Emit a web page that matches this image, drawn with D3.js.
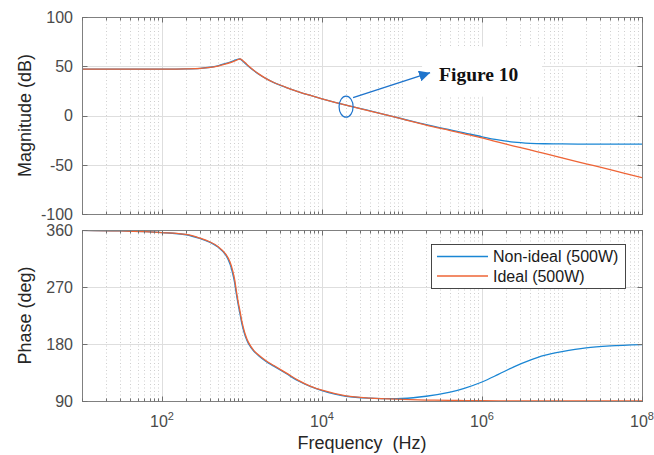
<!DOCTYPE html>
<html>
<head>
<meta charset="utf-8">
<title>bode plot</title>
<script src="https://cdn.jsdelivr.net/npm/d3@7"></script>
<style>
    body { margin: 0; background: #fff; }
    text { font-family: "Liberation Sans", Arial, sans-serif; }
</style>
</head>
<body>
<div id="graphDiv"></div>
<script>

var width = 654,
    height = 455;

var freqs = [10, 30, 100, 200, 300, 400, 500, 630, 710, 800, 850, 900, 950, 1000,
    1100, 1200, 1400, 1600, 2000, 2500, 3600, 5000, 7000, 1e4, 2e4, 4e4, 1e5, 2e5,
    4e5, 6e5, 1e6, 1.6e6, 2.5e6, 4e6, 6e6, 1e7, 2e7, 4e7, 1e8];

// magnitude (dB)
var magNonIdeal = [47, 47, 47, 47.3, 47.9, 49, 50.5, 52.8, 54.2, 55.8, 56.7, 57.3, 57.2, 55.8,
    52.8, 50, 45.6, 42.2, 37.4, 33.4, 28.4, 24.3, 20.6, 17, 10.5, 4.6, -3.3, -9.3,
    -14.6, -17.6, -21.6, -24.8, -27, -28.2, -28.7, -28.9, -29, -29, -29];
var magIdeal = [47, 47, 47, 47.3, 47.8, 48.8, 50.2, 52.3, 53.6, 55.2, 56.1, 56.9, 57.4, 56.4,
    53.5, 50.5, 46, 42.5, 37.5, 33.5, 28.4, 24.3, 20.6, 17, 10.5, 4.5, -3.5, -9.8,
    -15.3, -18.6, -22.8, -27, -31, -35, -38.5, -43, -49, -55, -63];

// phase (deg)
var phaseNonIdeal = [359.5, 358.5, 356, 352.5, 346.5, 340.5, 333, 320, 306, 280, 259, 241, 226, 211,
    192, 181, 169, 162, 152.5, 145, 133, 122, 113.5, 106.5, 97.5, 94.5, 94, 97.5,
    104, 110, 120, 132, 144, 154.6, 162, 168, 174, 177, 179];
var phaseIdeal = [359.5, 358.5, 356, 353, 347, 341, 334, 321.5, 309, 285, 264, 245, 230, 215,
    195, 183, 170, 163, 153.5, 146, 134, 123, 114, 107, 98, 94.5, 92.5, 91.5,
    91, 90.7, 90.5, 90.3, 90.2, 90.1, 90.1, 90, 90, 90, 90];

var seriesNames = ["Non-ideal (500W)", "Ideal (500W)"],
    seriesColors = ["#1a86d4", "#ee6436"];

var xTickVals = [1e2, 1e4, 1e6, 1e8],
    xTickExps = ["2", "4", "6", "8"],
    magTicks = [100, 50, 0, -50, -100],
    phaseTicks = [360, 270, 180, 90];

// annotation anchor on the magnitude curve
var annoFreq = 2e4,
    annoMag = 9,
    annoText = "Figure 10";

var left = 82, right = 642,
    magTop = 17, magBottom = 214,
    phTop = 230, phBottom = 401;

var x = d3.scaleLog().domain([10, 1e8]).range([left, right]),
    yMag = d3.scaleLinear().domain([-100, 100]).range([magBottom, magTop]),
    yPh = d3.scaleLinear().domain([90, 360]).range([phBottom, phTop]);

// every k*10^n position for minor ticks / dotted grid
var minorVals = [];
for (var n = 1; n < 8; n += 1) {
    for (var k = 1; k < 10; k += 1) {
        minorVals.push(k * Math.pow(10, n));
    }
}
minorVals.push(1e8);

var svg = d3.select('#graphDiv').append('svg')
    .attr('width', width)
    .attr('height', height);

function px(v) { return Math.round(v) + 0.5; }

function drawPanel(yScale, yTicks, top, bottom, seriesData, clipId) {
    var g = svg.append("g");

    // dotted minor grid
    g.selectAll(".minor").data(minorVals.filter(function(d) { return xTickVals.indexOf(d) < 0; }))
        .enter().append("line")
        .attr("x1", function(d) { return px(x(d)); })
        .attr("x2", function(d) { return px(x(d)); })
        .attr("y1", top).attr("y2", bottom)
        .style("stroke", "#cfcfcf")
        .style("stroke-width", 1)
        .style("stroke-dasharray", "1,2.5");

    // solid major grid
    g.selectAll(".majorx").data(xTickVals.slice(0, -1))
        .enter().append("line")
        .attr("x1", function(d) { return px(x(d)); })
        .attr("x2", function(d) { return px(x(d)); })
        .attr("y1", top).attr("y2", bottom)
        .style("stroke", "#dedede");
    g.selectAll(".majory").data(yTicks.slice(1, -1))
        .enter().append("line")
        .attr("x1", left).attr("x2", right)
        .attr("y1", function(d) { return px(yScale(d)); })
        .attr("y2", function(d) { return px(yScale(d)); })
        .style("stroke", "#dedede");

    svg.append("clipPath").attr("id", clipId)
        .append("rect")
        .attr("x", left).attr("y", top)
        .attr("width", right - left).attr("height", bottom - top);

    var line = d3.line()
        .x(function(d, i) { return x(freqs[i]); })
        .y(function(d) { return yScale(d); })
        .curve(d3.curveCatmullRom.alpha(0.5));

    g.selectAll(".curve").data(seriesData)
        .enter().append("path")
        .attr("clip-path", "url(#" + clipId + ")")
        .attr("d", function(d) { return line(d); })
        .style("fill", "none")
        .style("stroke", function(d, i) { return seriesColors[i]; })
        .style("stroke-width", 1.3);

    // frame
    g.append("rect")
        .attr("x", left + 0.5).attr("y", top + 0.5)
        .attr("width", right - left).attr("height", bottom - top)
        .style("fill", "none")
        .style("stroke", "#808080")
        .style("stroke-width", 1);

    // x ticks, inside, top and bottom
    [bottom, top].forEach(function(edge) {
        var dir = edge === bottom ? -1 : 1;
        g.selectAll(null).data(minorVals)
            .enter().append("line")
            .attr("x1", function(d) { return px(x(d)); })
            .attr("x2", function(d) { return px(x(d)); })
            .attr("y1", edge + 0.5)
            .attr("y2", function(d) { return edge + 0.5 + dir * (xTickVals.indexOf(d) < 0 ? 3 : 5); })
            .style("stroke", "#707070");
    });

    // y ticks, inside, left and right
    [left, right].forEach(function(edge) {
        var dir = edge === left ? 1 : -1;
        g.selectAll(null).data(yTicks)
            .enter().append("line")
            .attr("x1", edge + 0.5).attr("x2", edge + 0.5 + dir * 5)
            .attr("y1", function(d) { return px(yScale(d)); })
            .attr("y2", function(d) { return px(yScale(d)); })
            .style("stroke", "#707070");
    });

    g.selectAll(".ylab").data(yTicks)
        .enter().append("text")
        .attr("x", left - 9)
        .attr("y", function(d) { return yScale(d); })
        .attr("dy", "0.36em")
        .attr("text-anchor", "end")
        .style("font-size", "16px")
        .style("fill", "#4a4a4a")
        .text(function(d) { return d; });

    return g;
}

drawPanel(yMag, magTicks, magTop, magBottom, [magNonIdeal, magIdeal], "clipMag");
drawPanel(yPh, phaseTicks, phTop, phBottom, [phaseNonIdeal, phaseIdeal], "clipPh");

// x tick labels 10^n
var xl = svg.selectAll(".xlab").data(xTickVals)
    .enter().append("text")
    .attr("x", function(d) { return x(d); })
    .attr("y", 427)
    .attr("text-anchor", "middle")
    .style("font-size", "16px")
    .style("fill", "#4a4a4a");
xl.append("tspan").text("10");
xl.append("tspan")
    .attr("dy", -7)
    .style("font-size", "11px")
    .text(function(d, i) { return xTickExps[i]; });

// axis titles
svg.append("text")
    .attr("transform", "translate(31," + (magTop + magBottom) / 2 + ") rotate(-90)")
    .attr("text-anchor", "middle")
    .style("font-size", "18px")
    .style("fill", "#262626")
    .text("Magnitude (dB)");
svg.append("text")
    .attr("transform", "translate(31," + (phTop + phBottom) / 2 + ") rotate(-90)")
    .attr("text-anchor", "middle")
    .style("font-size", "18px")
    .style("fill", "#262626")
    .text("Phase (deg)");
svg.append("text")
    .attr("x", (left + right) / 2)
    .attr("y", 449)
    .attr("text-anchor", "middle")
    .style("font-size", "18px")
    .style("fill", "#262626")
    .style("white-space", "pre")
    .text("Frequency  (Hz)");

// legend
var legend = svg.append("g").attr("transform", "translate(431,244)");
legend.append("rect")
    .attr("x", 0.5).attr("y", 0.5)
    .attr("width", 194).attr("height", 44)
    .style("fill", "#fff")
    .style("stroke", "#333")
    .style("stroke-width", 0.9);
seriesNames.forEach(function(name, i) {
    var ly = 12.5 + i * 19.5;
    legend.append("line")
        .attr("x1", 6).attr("x2", 57)
        .attr("y1", ly).attr("y2", ly)
        .style("stroke", seriesColors[i])
        .style("stroke-width", 1.3);
    legend.append("text")
        .attr("x", 62).attr("y", ly)
        .attr("dy", "0.36em")
        .style("font-size", "16px")
        .style("fill", "#1a1a1a")
        .text(name);
});

// "Figure 10" callout
var ax = x(annoFreq), ay = yMag(annoMag);
svg.append("rect")
    .attr("x", ax + 76).attr("y", ay - 60)
    .attr("width", 120).attr("height", 50)
    .style("fill", "#fff");
svg.append("defs").append("marker")
    .attr("id", "arrow")
    .attr("viewBox", "0 0 10 10")
    .attr("refX", 10).attr("refY", 5)
    .attr("markerWidth", 11).attr("markerHeight", 11)
    .attr("markerUnits", "userSpaceOnUse")
    .attr("orient", "auto")
    .append("path")
    .attr("d", "M0,0 L10,5 L0,10 z")
    .style("fill", "#1f74cc");
svg.append("ellipse")
    .attr("cx", ax).attr("cy", ay)
    .attr("rx", 7).attr("ry", 10.5)
    .style("fill", "none")
    .style("stroke", "#1f74cc")
    .style("stroke-width", 1.2);
svg.append("line")
    .attr("x1", ax + 7).attr("y1", ay - 9)
    .attr("x2", ax + 84).attr("y2", ay - 34)
    .attr("marker-end", "url(#arrow)")
    .style("stroke", "#1f74cc")
    .style("stroke-width", 1.5);
svg.append("text")
    .attr("x", ax + 93).attr("y", ay - 26)
    .style("font-family", "'Liberation Serif', 'DejaVu Serif', serif")
    .style("font-weight", "bold")
    .style("font-size", "19.5px")
    .style("fill", "#111")
    .text(annoText);

</script>
</body>
</html>
